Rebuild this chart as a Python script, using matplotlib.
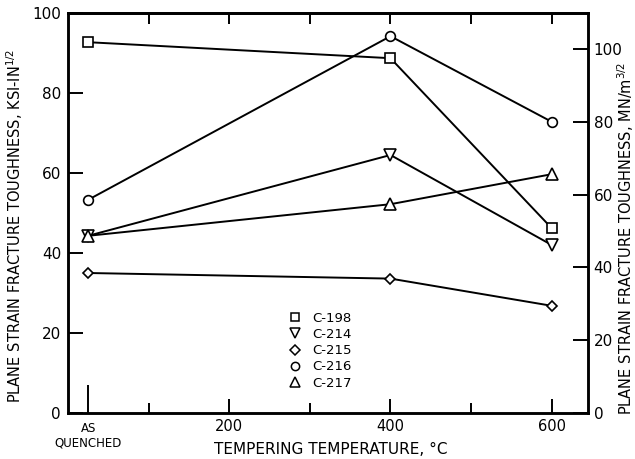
import matplotlib
matplotlib.use("Agg")
import matplotlib.pyplot as plt
from matplotlib.lines import Line2D

# Data
temps = [25, 400, 600]          # 25 = "AS QUENCHED"
series_names = ["C-198", "C-214", "C-215", "C-216", "C-217"]
c198 = [92.7, 88.7, 46.2]
c214 = [44.3, 64.5, 42.0]
c215 = [35.0, 33.6, 26.8]
c216 = [53.3, 94.2, 72.8]
c217 = [44.3, 52.2, 59.7]
values = [c198, c214, c215, c216, c217]
markers = ["s", "v", "D", "o", "^"]
msizes = [7, 8, 5.5, 7, 8]

x_major = [25, 200, 400, 600]
x_major_labels = ["AS\nQUENCHED", "200", "400", "600"]
x_minor = [100, 300, 500]
y_left_ticks = [0, 20, 40, 60, 80, 100]
y_right_ticks = [0, 20, 40, 60, 80, 100]
KSI_TO_MPA = 1.0988

plt.rcParams['font.family'] = ['DejaVu Sans']
fig = plt.figure(figsize=(6.35, 4.59), dpi=100)
ax = fig.add_axes([68/635, 1-413/459, (588-68)/635, (413-13)/459])

for vals, m, ms in zip(values, markers, msizes):
    ax.plot(temps, vals, color='black', lw=1.4, marker=m, ms=ms,
            mfc='white', mec='black', mew=1.2, zorder=3)

ax.set_xlim(0, 645)
ax.set_ylim(0, 100)
for s in ax.spines.values():
    s.set_linewidth(1.8)

ax.set_xticks(x_major, labels=x_major_labels)
ax.set_xticks(x_minor, minor=True)
ax.tick_params(axis='x', which='major', direction='in', length=10, width=1.4,
               labelsize=10.5, pad=4, top=False)
ax.tick_params(axis='x', which='minor', direction='in', length=7, width=1.4, top=False)
t0 = ax.xaxis.get_major_ticks()[0]
t0.set_pad(6.5)
t0.tick1line.set_markersize(20)
t0.label1.set_fontsize(8.5)
t0.label1.set_linespacing(1.1)

ax.set_yticks(y_left_ticks)
ax.tick_params(axis='y', direction='in', length=11, width=1.4, labelsize=11, pad=5, right=False)

top = ax.secondary_xaxis('top')
top.set_xticks([100, 200, 300, 400, 500, 600], labels=[])
top.tick_params(direction='in', length=8, width=1.4)
top.spines['top'].set_linewidth(1.8)

ax2 = ax.twinx()
ax2.set_ylim(0, 100 * KSI_TO_MPA)
ax2.set_yticks(y_right_ticks)
ax2.tick_params(axis='y', direction='in', length=11, width=1.4, labelsize=11, pad=4)
for s in ax2.spines.values():
    s.set_linewidth(1.8)

fig.text(15/635, 1-226/459, "PLANE STRAIN FRACTURE TOUGHNESS, KSI-IN$^{1/2}$",
         rotation=90, ha='center', va='center', fontsize=10.5)
fig.text(626/635, 1-238/459, "PLANE STRAIN FRACTURE TOUGHNESS, MN/m$^{3/2}$",
         rotation=90, ha='center', va='center', fontsize=10.5)
fig.text(331/635, 1-450/459, "TEMPERING TEMPERATURE, °C",
         ha='center', va='center', fontsize=11)

handles = [Line2D([], [], ls='none', marker=m, ms=ms*0.85, mfc='white', mec='black', mew=1.1)
           for m, ms in zip(markers, msizes)]
leg = ax.legend(handles, series_names, loc='upper left',
                bbox_to_anchor=(282/635, 1-305/459), bbox_transform=fig.transFigure,
                frameon=False, handlelength=1.0, handletextpad=0.8,
                labelspacing=0.25, fontsize=9.5, borderpad=0)

fig.savefig("out.png", dpi=100)
